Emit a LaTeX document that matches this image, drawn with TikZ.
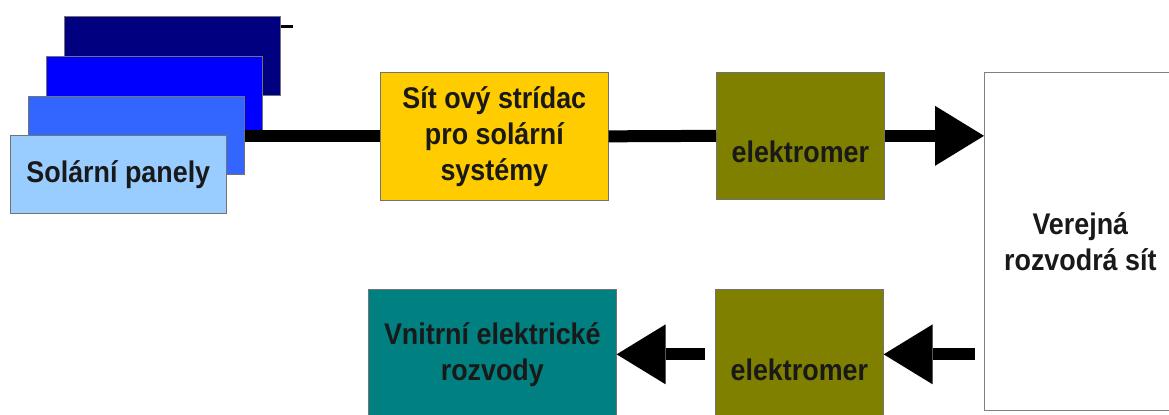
\documentclass[tikz,border=0pt]{standalone}
\usepackage{fontspec}
\setmainfont{Liberation Sans}[FakeStretch=0.9]
\usepackage{tikz}
\usetikzlibrary{arrows.meta}
\definecolor{panelA}{RGB}{153,204,255}
\definecolor{panelB}{RGB}{51,102,255}
\definecolor{panelC}{RGB}{0,0,255}
\definecolor{panelD}{RGB}{0,0,128}
\definecolor{sunyellow}{RGB}{255,204,0}
\definecolor{meterolive}{RGB}{128,128,0}
\definecolor{houseteal}{RGB}{0,128,128}
\tikzset{
  panel node/.style={rectangle,draw=black!55,anchor=north west,inner sep=0pt,
    minimum width=4.32cm,minimum height=1.58cm},
  box node/.style={rectangle,draw=black!55,anchor=north west,inner sep=0pt,align=center,
    text=black!90,font=\bfseries\fontsize{17}{20.5}\selectfont},
  meter node/.style={box node,fill=meterolive,minimum width=3.36cm,
    text height=1.22cm,text depth=0.16cm},
  bus/.style={line width=0.24cm,yshift=-0.06cm},
  big arrow/.style={bus,-{Triangle[length=0.98cm,width=1.2cm,line width=0pt]}}
}
\begin{document}
\begin{tikzpicture}[x=0.02cm,y=-0.02cm]
  \useasboundingbox (0,0) rectangle (1169,415);
  \clip (0,0) rectangle (1169,415);
  % stacked panels
  \node [panel node,fill=panelD] (p4) at (64,16) {};
  \draw [line width=0.06cm] ([yshift=-0.22cm]p4.north east) -- ++(12,0);
  \node [panel node,fill=panelC] (p3) at (46,56) {};
  \node [panel node,fill=panelB,minimum height=1.56cm] (p2) at (28,96) {};
  \node [box node,fill=sunyellow,minimum width=4.56cm,minimum height=2.56cm] (inv) at (380,72)
        {Sít ový strídac\\pro solární\\systémy};
  \draw [bus] (p2.east |- inv.west) -- (inv.west);
  \node [panel node,fill=panelA,box node,minimum width=4.32cm,minimum height=1.56cm] (p1) at (10,135)
        {Solární panely};
  % meters and grid
  \node [meter node,minimum height=2.54cm] (em1) at (716,72) {elektromer};
  \node [box node,fill=white,draw=black!50,minimum width=3.84cm,minimum height=6.76cm] (grid) at (984,72)
        {Verejná\\rozvodrá sít};
  \node [meter node,minimum height=2.6cm] (em2) at (715,289) {elektromer};
  \node [box node,fill=houseteal,minimum width=4.96cm,minimum height=2.6cm] (home) at (368,289)
        {Vnitrní elektrické\\rozvody};
  \draw [bus] (inv.east) -- (em1.west);
  \draw [big arrow] (em1.east) -- (em1.east -| grid.west);
  \draw [big arrow,shorten <=0.18cm] (em2.east -| grid.west) -- (em2.east);
  \draw [big arrow,shorten <=0.2cm] (em2.west) -- (home.east);
\end{tikzpicture}
\end{document}
